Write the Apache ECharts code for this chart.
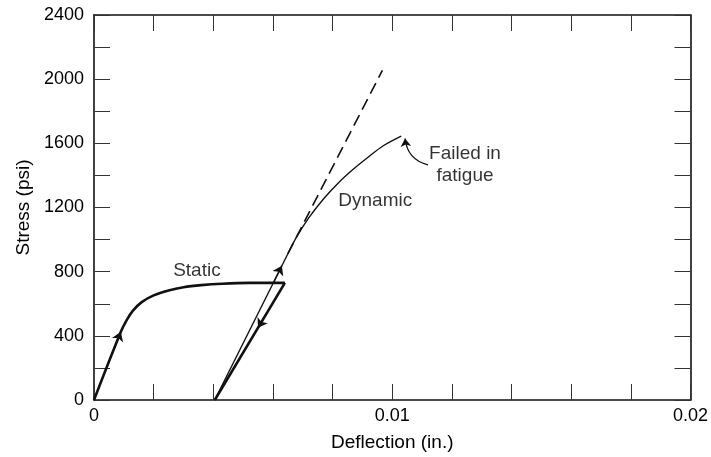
<!DOCTYPE html>
<html>
<head>
<meta charset="utf-8">
<script src="https://cdn.jsdelivr.net/npm/echarts@6/dist/echarts.min.js"></script>
<style>html,body{margin:0;padding:0;background:#fff;}#c{width:711px;height:457px;}</style>
</head>
<body>
<div id="c"></div>
<script>
// ---- Data (deflection in inches, stress in psi) ----
const staticCurve = [[0,0],[0.0009,425],[0.0011,500],[0.0013,556],[0.0016,610],[0.002,652],[0.0025,683],[0.003,703],[0.0036,716],[0.0043,725],[0.0052,730],[0.0064,730]];
const unloadLine = [[0.0064,730],[0.00405,0]];
const reloadLine = [[0.00405,0],[0.0065,912]];
const dynamicCurve = [[0.0065,912],[0.0068,1018],[0.0072,1135],[0.0077,1255],[0.0082,1355],[0.0087,1440],[0.0092,1515],[0.0097,1585],[0.0103,1645]];
const elasticExtension = [[0.0065,912],[0.00967,2055]];
const arrowSegments = [
  [[0.0006,284],[0.0009,425]],
  [[0.0060,725],[0.0063,837]],
  [[0.0058,543],[0.0055,450]]
];
const fatiguePointer = [[0.0112,1466],[0.01043,1630]];
const annotations = [
  {text:'Static', at:[0.00345,804]},
  {text:'Dynamic', at:[0.00943,1243]},
  {text:'Failed in\nfatigue', at:[0.01244,1466]}
];
const xMin = 0, xMax = 0.02, xStep = 0.002, xLabelEvery = 0.01;
const yMin = 0, yMax = 2400, yStep = 200, yLabelEvery = 400;

const ink = '#000';
const FONT = 'Liberation Sans, Arial, sans-serif';
const fs = 18;

function isMult(v, step){ const r = v/step; return Math.abs(r - Math.round(r)) < 1e-6; }

const tickStyle = {show:true, inside:true, length:16, lineStyle:{color:'#333', width:1}};
const axisLine = {show:true, onZero:false, lineStyle:{color:'#111', width:1.6}};

const chart = echarts.init(document.getElementById('c'), null, {renderer:'canvas'});
chart.setOption({
  animation:false,
  backgroundColor:'#fff',
  grid:{left:94, right:19, top:15, bottom:54, containLabel:false},
  xAxis:[
    {type:'value', min:xMin, max:xMax, interval:xStep, position:'bottom',
     axisLine:axisLine, axisTick:tickStyle, splitLine:{show:false},
     axisLabel:{margin:7, color:ink, fontFamily:FONT, fontSize:fs,
       formatter:v => isMult(v, xLabelEvery) ? (Math.round(v*100)/100).toString() : ''},
     name:'Deflection (in.)', nameLocation:'middle', nameGap:33,
     nameTextStyle:{color:ink, fontFamily:FONT, fontSize:19}},
    {type:'value', min:xMin, max:xMax, interval:xStep, position:'top',
     axisLine:axisLine, axisTick:tickStyle, axisLabel:{show:false}, splitLine:{show:false}}
  ],
  yAxis:[
    {type:'value', min:yMin, max:yMax, interval:yStep, position:'left',
     axisLine:axisLine, axisTick:tickStyle, splitLine:{show:false},
     axisLabel:{margin:10, color:ink, fontFamily:FONT, fontSize:fs,
       formatter:v => isMult(v, yLabelEvery) ? String(v) : ''},
     name:'Stress (psi)', nameLocation:'middle', nameGap:60, nameRotate:90,
     nameTextStyle:{color:ink, fontFamily:FONT, fontSize:19}},
    {type:'value', min:yMin, max:yMax, interval:yStep, position:'right',
     axisLine:axisLine, axisTick:tickStyle, axisLabel:{show:false}, splitLine:{show:false}}
  ],
  series:[
    {type:'line', data:staticCurve, smooth:0.3, symbol:'none',
     lineStyle:{color:'#111', width:2.6}, z:3},
    {type:'line', data:unloadLine, symbol:'none', lineStyle:{color:'#111', width:2.6}, z:3},
    {type:'line', data:reloadLine, symbol:'none', lineStyle:{color:'#111', width:1.4}, z:3},
    {type:'line', data:dynamicCurve, smooth:0.3, symbol:'none',
     lineStyle:{color:'#111', width:1.4}, z:3},
    {type:'line', data:elasticExtension, symbol:'none',
     lineStyle:{color:'#111', width:1.6, type:[12,6]}, z:3},
    {type:'lines', coordinateSystem:'cartesian2d', symbol:['none','arrow'], symbolSize:9,
     lineStyle:{color:'#111', width:1.4, opacity:1},
     data:arrowSegments.map(s => ({coords:s})), z:4},
    {type:'lines', coordinateSystem:'cartesian2d', symbol:['none','arrow'], symbolSize:8,
     lineStyle:{color:'#111', width:1.3, curveness:0.35, opacity:1},
     data:[{coords:fatiguePointer}], z:4},
    {type:'scatter', symbolSize:0, silent:true,
     data:annotations.map(a => ({value:a.at, name:a.text})),
     label:{show:true, position:'inside', formatter:p => p.name, color:ink,
       fontFamily:FONT, fontSize:19, lineHeight:22, align:'center', verticalAlign:'middle'}, z:5}
  ]
});
</script>
</body>
</html>
